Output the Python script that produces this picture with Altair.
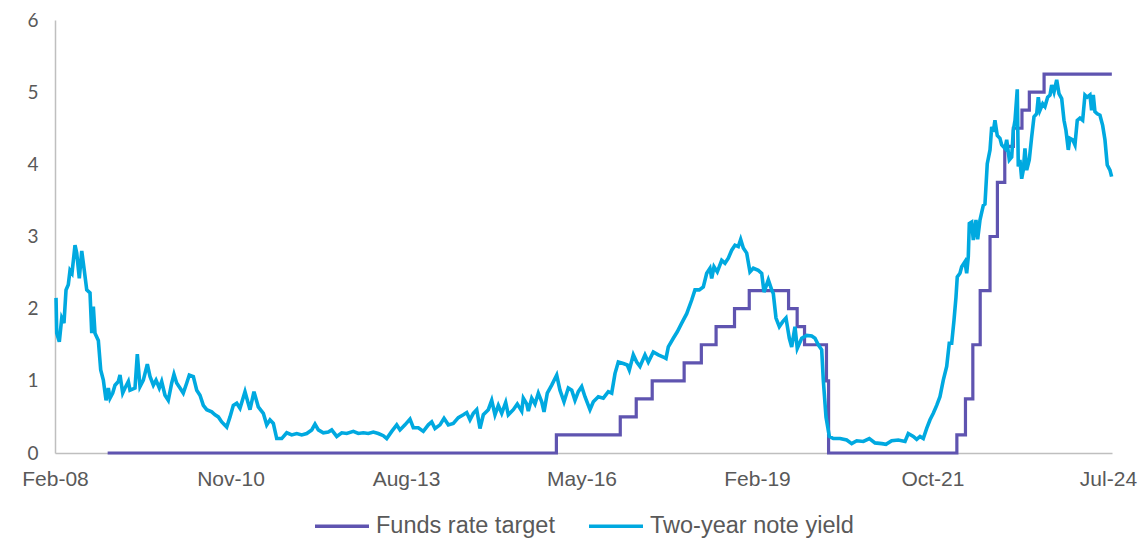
import altair as alt
import pandas as pd

series_names = ["Funds rate target", "Two-year note yield"]
series_colors = ["#5F54B0", "#00A9E0"]

# Fed funds target (lower bound), change dates
fed_dates = ["2008-12-16", "2015-12-17", "2016-12-15", "2017-03-16", "2017-06-15",
             "2017-12-14", "2018-03-22", "2018-06-14", "2018-09-27", "2018-12-20",
             "2019-08-01", "2019-09-19", "2019-10-31", "2020-03-04", "2020-03-16",
             "2022-03-17", "2022-05-05", "2022-06-16", "2022-07-28", "2022-09-22",
             "2022-11-03", "2022-12-15", "2023-02-02", "2023-03-23", "2023-05-04",
             "2023-07-27", "2024-08-16"]
fed_values = [0, 0.25, 0.5, 0.75, 1.0, 1.25, 1.5, 1.75, 2.0, 2.25,
              2.0, 1.75, 1.5, 1.0, 0, 0.25, 0.75, 1.5, 2.25, 3.0,
              3.75, 4.25, 4.5, 4.75, 5.0, 5.25, 5.25]

# Two-year note yield (time as decimal year)
yield_years = [
    2008.153, 2008.164, 2008.204, 2008.242, 2008.277, 2008.309, 2008.344, 2008.371, 2008.402, 2008.449,
    2008.476, 2008.516, 2008.554, 2008.594, 2008.632, 2008.683, 2008.710, 2008.735, 2008.761, 2008.813,
    2008.850, 2008.891, 2008.933, 2008.969, 2008.995,
    2009.037, 2009.073, 2009.125, 2009.151, 2009.193, 2009.229, 2009.281, 2009.307, 2009.385, 2009.421,
    2009.463, 2009.515, 2009.577, 2009.619, 2009.671, 2009.713, 2009.764, 2009.801, 2009.853, 2009.904,
    2009.958, 2009.993,
    2010.035, 2010.087, 2010.138, 2010.192, 2010.232, 2010.295, 2010.348, 2010.399, 2010.451, 2010.504,
    2010.582, 2010.633, 2010.685, 2010.738, 2010.816, 2010.867, 2010.919, 2010.972,
    2011.023, 2011.101, 2011.179, 2011.241, 2011.308, 2011.387, 2011.440, 2011.491, 2011.543, 2011.596,
    2011.674, 2011.752, 2011.830, 2011.908, 2011.986,
    2012.064, 2012.142, 2012.193, 2012.245, 2012.323, 2012.401, 2012.454, 2012.532, 2012.610, 2012.688,
    2012.791, 2012.869, 2012.947,
    2013.025, 2013.103, 2013.181, 2013.259, 2013.312, 2013.390, 2013.468, 2013.519, 2013.597, 2013.675,
    2013.727, 2013.805, 2013.883, 2013.961,
    2014.014, 2014.065, 2014.143, 2014.206, 2014.273, 2014.351, 2014.429, 2014.507, 2014.560, 2014.611,
    2014.663, 2014.716, 2014.767, 2014.819, 2014.897, 2014.950,
    2015.001, 2015.053, 2015.106, 2015.168, 2015.209, 2015.287, 2015.349, 2015.418, 2015.443, 2015.496,
    2015.521, 2015.574, 2015.625, 2015.677, 2015.730, 2015.766, 2015.817, 2015.886, 2015.964,
    2016.015, 2016.078, 2016.145, 2016.198, 2016.249, 2016.301, 2016.354, 2016.405, 2016.483, 2016.535,
    2016.613, 2016.691, 2016.769, 2016.822, 2016.873, 2016.925,
    2017.003, 2017.065, 2017.097, 2017.159, 2017.212, 2017.263, 2017.341, 2017.393, 2017.471, 2017.549,
    2017.627, 2017.669, 2017.705, 2017.783, 2017.845, 2017.914, 2017.992,
    2018.070, 2018.121, 2018.188, 2018.251, 2018.304, 2018.355, 2018.382, 2018.418, 2018.469, 2018.538,
    2018.589, 2018.641, 2018.694, 2018.745, 2018.797, 2018.834, 2018.875, 2018.928, 2018.979,
    2019.031, 2019.109, 2019.162, 2019.198, 2019.265, 2019.318, 2019.343, 2019.385, 2019.437, 2019.490,
    2019.541, 2019.593, 2019.630, 2019.681, 2019.717, 2019.786, 2019.864, 2019.942, 2019.993,
    2020.045, 2020.098, 2020.123, 2020.165, 2020.217, 2020.279, 2020.384, 2020.488, 2020.566, 2020.645,
    2020.748, 2020.841, 2020.930,
    2021.035, 2021.101, 2021.190, 2021.293, 2021.398, 2021.449, 2021.527, 2021.580, 2021.632, 2021.683,
    2021.736, 2021.788, 2021.839, 2021.892, 2021.943, 2021.995,
    2022.048, 2022.088, 2022.126, 2022.162, 2022.193, 2022.213, 2022.255, 2022.282, 2022.333, 2022.360,
    2022.385, 2022.401, 2022.438, 2022.463, 2022.505, 2022.531, 2022.568, 2022.619, 2022.645, 2022.681,
    2022.724, 2022.750, 2022.775, 2022.801, 2022.837, 2022.879, 2022.906, 2022.958, 2022.984,
    2023.025, 2023.062, 2023.087, 2023.114, 2023.149, 2023.165, 2023.191, 2023.218, 2023.243, 2023.269,
    2023.296, 2023.336, 2023.374, 2023.410, 2023.452, 2023.477, 2023.504, 2023.546, 2023.581, 2023.623,
    2023.660, 2023.686, 2023.722, 2023.764, 2023.800, 2023.842, 2023.878, 2023.909, 2023.945, 2023.971,
    2024.013, 2024.049, 2024.085, 2024.127, 2024.169, 2024.205, 2024.241, 2024.283, 2024.309, 2024.335,
    2024.361, 2024.397, 2024.439, 2024.481, 2024.517, 2024.553, 2024.595, 2024.621,
]
yield_values = [
    2.15, 1.66, 1.54, 1.87, 1.80, 2.26, 2.33, 2.53, 2.49, 2.88,
    2.77, 2.42, 2.80, 2.53, 2.26, 2.22, 1.66, 2.03, 1.66, 1.56,
    1.15, 1.01, 0.73, 0.90, 0.76,
    0.83, 0.94, 0.99, 1.08, 0.83, 0.90, 0.99, 0.87, 0.90, 1.37,
    0.92, 1.01, 1.23, 1.06, 0.94, 1.01, 0.90, 0.99, 0.80, 0.73,
    0.97, 1.09,
    0.97, 0.90, 0.83, 0.97, 1.08, 1.06, 0.87, 0.80, 0.66, 0.60,
    0.57, 0.53, 0.50, 0.43, 0.36, 0.50, 0.66, 0.69,
    0.62, 0.85, 0.60, 0.85, 0.64, 0.55, 0.39, 0.46, 0.41, 0.20,
    0.20, 0.28, 0.25, 0.27, 0.25,
    0.27, 0.32, 0.40, 0.32, 0.28, 0.29, 0.32, 0.23, 0.28, 0.27,
    0.30, 0.27, 0.28,
    0.27, 0.29, 0.27, 0.24, 0.20, 0.30, 0.39, 0.32, 0.39, 0.47,
    0.35, 0.35, 0.30, 0.39,
    0.43, 0.34, 0.39, 0.48, 0.39, 0.41, 0.49, 0.53, 0.56, 0.46,
    0.55, 0.60, 0.34, 0.53, 0.60, 0.73,
    0.53, 0.66, 0.55, 0.70, 0.53, 0.60, 0.68, 0.58, 0.76, 0.68,
    0.58, 0.76, 0.68, 0.83, 0.71, 0.57, 0.83, 0.94, 1.08,
    0.87, 0.71, 0.90, 0.87, 0.73, 0.85, 0.92, 0.78, 0.60, 0.71,
    0.78, 0.76, 0.85, 0.83, 1.10, 1.26,
    1.24, 1.22, 1.15, 1.36, 1.26, 1.20, 1.36, 1.26, 1.40, 1.36,
    1.33, 1.31, 1.47, 1.59, 1.68, 1.80, 1.93,
    2.12, 2.26, 2.26, 2.30, 2.49, 2.56, 2.42, 2.58, 2.51, 2.67,
    2.63, 2.70, 2.81, 2.88, 2.86, 2.96, 2.84, 2.77, 2.51,
    2.56, 2.53, 2.49, 2.23, 2.40, 2.26, 2.21, 1.87, 1.75, 1.82,
    1.87, 1.59, 1.47, 1.75, 1.45, 1.59, 1.63, 1.62, 1.59,
    1.50, 1.43, 1.01, 0.50, 0.23, 0.20, 0.20, 0.18, 0.13, 0.17,
    0.16, 0.20, 0.14,
    0.13, 0.12, 0.17, 0.18, 0.16, 0.27, 0.23, 0.19, 0.23, 0.20,
    0.34, 0.46, 0.55, 0.66, 0.78, 1.01,
    1.20, 1.52, 1.52, 1.84, 2.16, 2.44, 2.49, 2.58, 2.65, 2.49,
    2.72, 3.18, 3.20, 2.95, 3.23, 2.96, 3.23, 3.43, 3.45, 4.01,
    4.20, 4.52, 4.45, 4.61, 4.40, 4.36, 4.27, 4.22, 4.34,
    4.06, 4.10, 4.47, 4.61, 5.04, 3.97, 4.06, 3.80, 3.92, 4.22,
    3.92, 4.06, 4.38, 4.66, 4.70, 4.93, 4.75, 4.84, 4.80, 4.93,
    4.96, 5.10, 5.00, 5.17, 4.98, 4.91, 4.61, 4.47, 4.20, 4.36,
    4.34, 4.27, 4.61, 4.64, 4.61, 4.96, 4.93, 4.96, 4.75, 4.96,
    4.73, 4.70, 4.68, 4.54, 4.34, 3.99, 3.92, 3.83,
]

tick_dates = ["2008-02-20", "2010-11-16", "2013-08-12", "2016-05-08",
              "2019-02-02", "2021-10-29", "2024-07-25"]
x_start, x_end = "2008-02-20", "2024-08-17"
y_ticks = [0, 1, 2, 3, 4, 5, 6]


def year_to_iso(t):
    ts = pd.Timestamp("2008-01-01") + pd.to_timedelta((t - 2008.0) * 365.25, unit="D")
    return ts.strftime("%Y-%m-%dT%H:%M:%SZ")


def dt(s):
    y, m, d = map(int, s.split("-"))
    return alt.DateTime(year=y, month=m, date=d, utc=True)


fed_df = pd.DataFrame({"date": [d + "T00:00:00Z" for d in fed_dates],
                       "value": fed_values, "series": series_names[0]})
yld_df = pd.DataFrame({"date": [year_to_iso(t) for t in yield_years],
                       "value": yield_values, "series": series_names[1]})

grey = "#595959"
x_enc = alt.X(
    "date:T",
    scale=alt.Scale(type="utc", domain=[dt(x_start), dt(x_end)]),
    axis=alt.Axis(values=[dt(s) for s in tick_dates], format="%b-%y", title=None,
                  grid=False, ticks=False, domainColor="#BFBFBF", domainWidth=1.5,
                  labelFont="Liberation Sans", labelFontSize=21, labelColor=grey,
                  labelPadding=15, labelOverlap=False, labelFlush=False),
)
y_enc = alt.Y(
    "value:Q",
    scale=alt.Scale(domain=[0, 6], nice=False, zero=True),
    axis=alt.Axis(values=y_ticks, title=None, grid=False, ticks=False,
                  domainColor="#BFBFBF", domainWidth=1.5, labelFont="Lato",
                  labelFontSize=19, labelColor=grey, labelPadding=17),
)
color_enc = alt.Color(
    "series:N",
    scale=alt.Scale(domain=series_names, range=series_colors),
    legend=alt.Legend(title=None, orient="none", legendX=258, legendY=477,
                      direction="horizontal", symbolType="stroke", symbolSize=2916,
                      symbolStrokeWidth=3.5, labelFont="Liberation Sans",
                      labelFontSize=23.5, labelColor=grey, labelOffset=5,
                      labelLimit=0, columnPadding=27, padding=0),
)

fed = alt.Chart(fed_df).mark_line(interpolate="step-after", strokeWidth=3.2).encode(
    x=x_enc, y=y_enc, color=color_enc)
yld = alt.Chart(yld_df).mark_line(strokeWidth=3.6).encode(
    x=x_enc, y=y_enc, color=color_enc)

chart = alt.layer(fed, yld).properties(
    width=1057, height=433,
    padding={"left": 55, "top": 20, "right": 26, "bottom": 85},
    autosize="none",
).configure_view(stroke=None)

chart.save("out.html", embed_options={"renderer": "svg", "actions": False})
